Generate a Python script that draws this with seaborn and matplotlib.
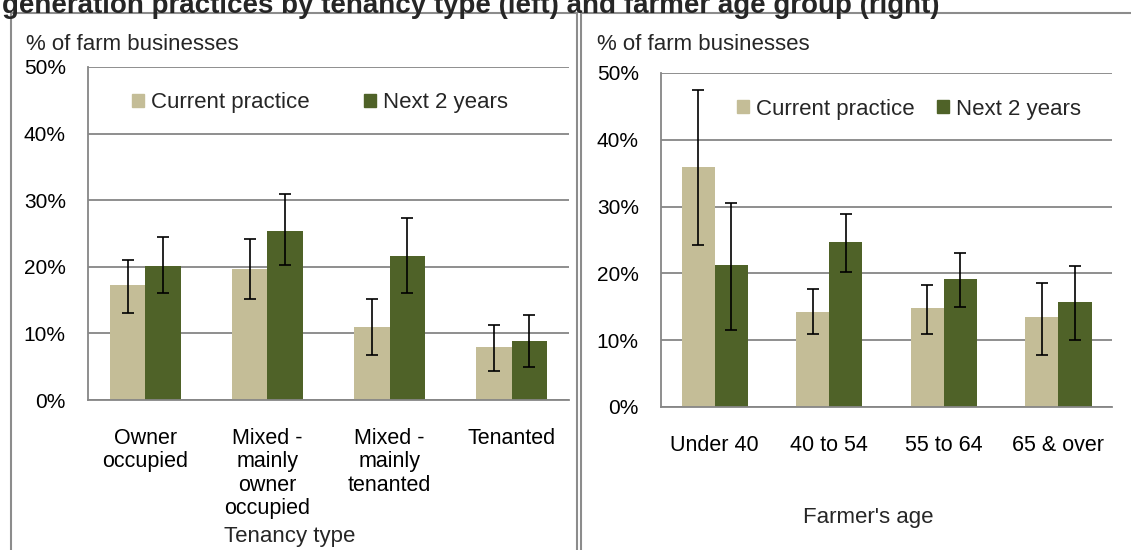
import numpy as np
import pandas as pd
import matplotlib
matplotlib.use("Agg")
import matplotlib.pyplot as plt
import seaborn as sns
from matplotlib.patches import Rectangle
from matplotlib.ticker import PercentFormatter, MultipleLocator

# data (fractions of farm businesses)
tenancy_labels = ["Owner\noccupied", "Mixed -\nmainly\nowner\noccupied",
                  "Mixed -\nmainly\ntenanted", "Tenanted"]
tenancy_current = [0.173, 0.196, 0.109, 0.079]
tenancy_current_lo = [0.131, 0.152, 0.067, 0.043]
tenancy_current_hi = [0.210, 0.242, 0.151, 0.113]
tenancy_next = [0.201, 0.254, 0.216, 0.088]
tenancy_next_lo = [0.160, 0.203, 0.160, 0.049]
tenancy_next_hi = [0.244, 0.309, 0.273, 0.128]

age_labels = ["Under 40", "40 to 54", "55 to 64", "65 & over"]
age_current = [0.359, 0.142, 0.148, 0.134]
age_current_lo = [0.243, 0.109, 0.109, 0.078]
age_current_hi = [0.474, 0.176, 0.182, 0.185]
age_next = [0.212, 0.247, 0.192, 0.157]
age_next_lo = [0.116, 0.202, 0.150, 0.101]
age_next_hi = [0.306, 0.289, 0.231, 0.211]

series_names = ["Current practice", "Next 2 years"]
colors = ["#C4BD97", "#4F6228"]
grey = "#868686"

sns.set_theme(style="white")
plt.rcParams["font.family"] = ["Liberation Sans", "DejaVu Sans"]

W, H = 1131, 550
fig = plt.figure(figsize=(W / 100, H / 100), dpi=100)


def px(x0, y0, x1, y1):
    # pixel box -> figure fraction [left, bottom, width, height]
    return [x0 / W, 1 - y1 / H, (x1 - x0) / W, (y1 - y0) / H]


def draw_panel(ax, labels, cur, cur_lo, cur_hi, nxt, nxt_lo, nxt_hi,
               xlabel, xlabel_pos, legend_x, colspace, xpad):
    df = pd.DataFrame({
        "cat": labels * 2,
        "series": [series_names[0]] * len(labels) + [series_names[1]] * len(labels),
        "value": cur + nxt,
    })
    sns.barplot(data=df, x="cat", y="value", hue="series", palette=colors,
                width=0.58, gap=0, errorbar=None, saturation=1, ax=ax,
                edgecolor="none", legend=False)

    # error bars at the bar centres seaborn produced
    for cont, vals, lo, hi in zip(ax.containers, [cur, nxt], [cur_lo, nxt_lo], [cur_hi, nxt_hi]):
        xs = [b.get_x() + b.get_width() / 2 for b in cont]
        yerr = [np.array(vals) - np.array(lo), np.array(hi) - np.array(vals)]
        ax.errorbar(xs, vals, yerr=yerr, fmt="none", ecolor="black",
                    elinewidth=1.2, capsize=4.5, capthick=1.2, zorder=5)

    ax.set_ylim(0, 0.5)
    ax.yaxis.set_major_locator(MultipleLocator(0.1))
    ax.yaxis.set_major_formatter(PercentFormatter(1, decimals=0))
    ax.grid(axis="y", color=grey, linewidth=1.3)
    ax.set_axisbelow(True)
    for s in ["top", "right"]:
        ax.spines[s].set_visible(False)
    for s in ["left", "bottom"]:
        ax.spines[s].set_color(grey)
        ax.spines[s].set_linewidth(1.3)
    ax.spines["bottom"].set_zorder(6)
    ax.tick_params(axis="both", length=0, labelsize=15, colors="black")
    ax.tick_params(axis="y", pad=16)
    ax.tick_params(axis="x", pad=xpad)
    for t in ax.get_xticklabels():
        t.set_linespacing(1.15)
        t.set_fontsize(15.5)
    ax.set_ylabel("")
    ax.set_xlabel(xlabel, fontsize=16, va="center")
    ax.xaxis.set_label_coords(*xlabel_pos)

    handles = [Rectangle((0, 0), 1, 1, color=c) for c in colors]
    ax.legend(handles, series_names, loc="center left",
              bbox_to_anchor=(legend_x, 0.892), ncol=2, frameon=False,
              fontsize=16, handlelength=0.55, handleheight=0.55,
              handletextpad=0.3, columnspacing=colspace,
              borderpad=0, borderaxespad=0)


ax1 = fig.add_axes(px(88, 67, 569, 400))
draw_panel(ax1, tenancy_labels, tenancy_current, tenancy_current_lo, tenancy_current_hi,
           tenancy_next, tenancy_next_lo, tenancy_next_hi,
           "Tenancy type", (0.42, -0.41), 0.0915, 2.45, 20)

ax2 = fig.add_axes(px(661, 73, 1112, 407))
draw_panel(ax2, age_labels, age_current, age_current_lo, age_current_hi,
           age_next, age_next_lo, age_next_hi,
           "Farmer's age", (0.459, -0.332), 0.1685, 1.0, 20)

# panel frames
fig.add_artist(Rectangle((11 / W, -0.05), (577 - 11) / W, 1.05 - 13 / H,
                         transform=fig.transFigure, fill=False,
                         edgecolor="#8C8C8C", linewidth=1.5))
fig.add_artist(Rectangle((581 / W, -0.05), 0.5, 1.05 - 13 / H,
                         transform=fig.transFigure, fill=False,
                         edgecolor="#8C8C8C", linewidth=1.5))

fig.text(26 / W, 1 - 45 / H, "% of farm businesses", fontsize=16, va="center")
fig.text(597 / W, 1 - 45 / H, "% of farm businesses", fontsize=16, va="center")

fig.text(2 / W, 1 - 13 / H,
         "generation practices by tenancy type (left) and farmer age group (right)",
         fontsize=20, fontweight="bold", va="baseline")

fig.savefig("out.png", dpi=100)
